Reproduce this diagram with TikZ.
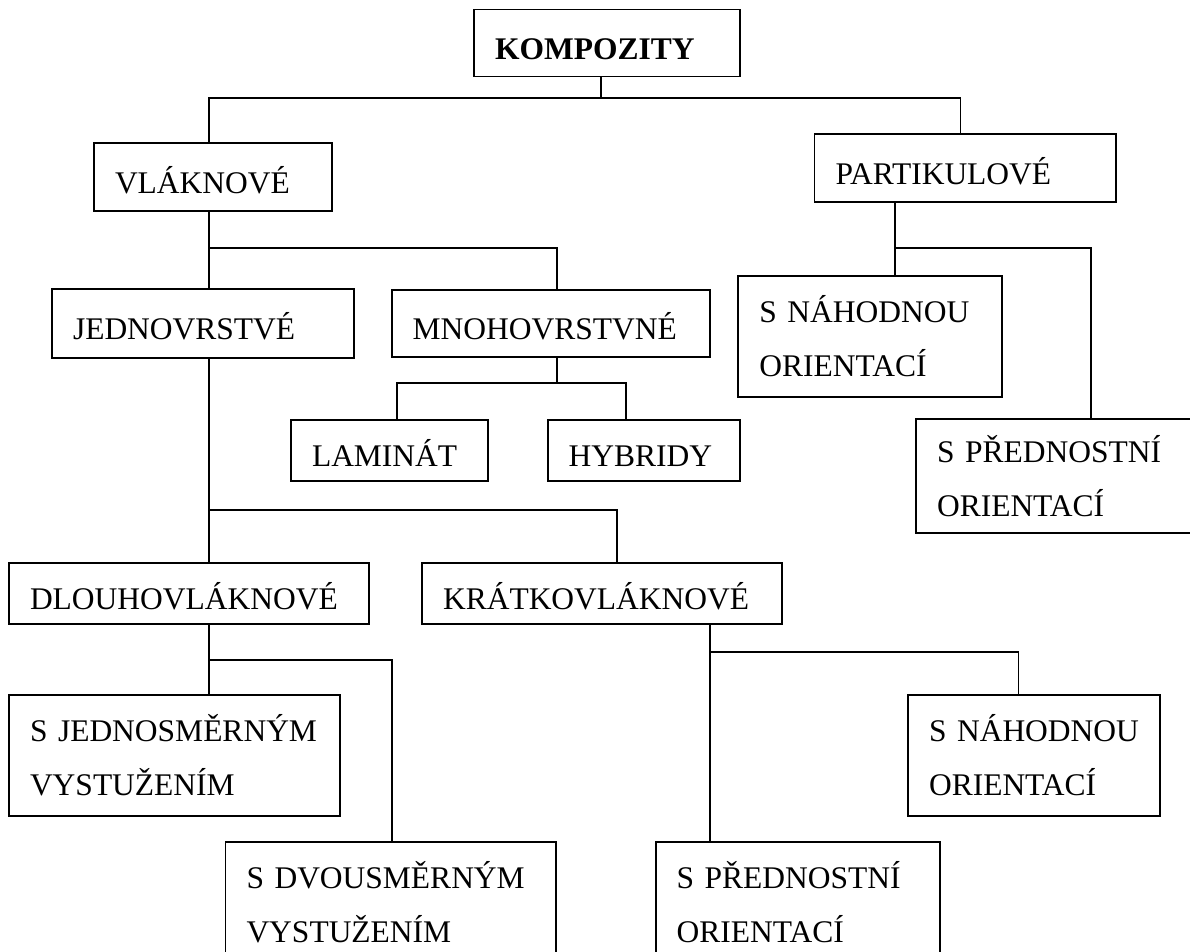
\documentclass[tikz,border=0pt]{standalone}
\usepackage{fontspec}
\setmainfont{Liberation Serif}
\usepackage{tikz}
\usetikzlibrary{calc}
\hyphenpenalty=10000
\uchyph=0

\begin{document}
\begin{tikzpicture}[x=1pt,y=-1pt,
        box/.style={draw,line width=1.8pt,outer sep=0pt,inner xsep=21pt,inner ysep=0pt,
            align=left,font=\fontsize{31.5pt}{54pt}\selectfont},
        one/.style={text height=32pt,text depth=0pt},
        link/.style={line width=1.8pt}]
        \useasboundingbox (0,0) rectangle (1190,951);

        % top
        \node[box,one,font=\fontsize{31.5pt}{54pt}\selectfont\bfseries,text width=224pt,minimum height=67pt] (komp) at (607,43) {KOMPOZITY};
        \node[box,one,text width=196pt,minimum height=68pt] (vlak) at (213,177) {VLÁKNOVÉ};
        \node[box,one,text width=259.5pt,minimum height=68pt] (part) at (965.25,168) {PARTIKULOVÉ};
        % sec line
        \node[box,one,text width=260pt,minimum height=69pt] (jedn) at (203,323.5) {JEDNOVRSTVÉ};
        \node[box,one,text width=276.3pt,minimum height=67pt] (mnoh) at (550.85,323.5) {MNOHOVRSTVNÉ};
        \node[box,text width=221.4pt,minimum height=121pt] (nahA) at (870,336.2) {S~NÁHODNOU\\ORIENTACÍ};
        \node[box,one,text width=155.3pt,minimum height=60.7pt] (lami) at (389.65,450.35) {LAMINÁT};
        \node[box,one,text width=150.3pt,minimum height=61pt] (hybr) at (643.85,450.5) {HYBRIDY};
        \node[box,text width=242pt,minimum height=114pt] (predA) at (1058,476.3) {S~PŘEDNOSTNÍ\\ORIENTACÍ};
        % thrird line
        \node[box,one,text width=318pt,minimum height=61pt] (dlou) at (189,593.5) {DLOUHOVLÁKNOVÉ};
        \node[box,one,text width=317.7pt,minimum height=61pt] (krat) at (601.85,593.5) {KRÁTKOVLÁKNOVÉ};
        % bottom line
        \node[box,text width=289pt,minimum height=121pt] (sjed) at (174.5,755.5) {S~JEDNOSMĚRNÝM\\VYSTUŽENÍM};
        \node[box,text width=210pt,minimum height=121pt] (nahB) at (1034,755.5) {\mbox{S~NÁHODNOU}\\ORIENTACÍ};
        \node[box,text width=288.1pt,minimum height=121pt] (sdvo) at (390.55,902.2) {S~DVOUSMĚRNÝM\\VYSTUŽENÍM};
        \node[box,text width=242.3pt,minimum height=121pt] (predB) at (797.85,902.2) {S~PŘEDNOSTNÍ\\ORIENTACÍ};

        % forks
        \coordinate (fk) at (601,98);
        \coordinate (fv) at (208.6,248.3);
        \coordinate (fm) at (556.6,383.3);
        \coordinate (fj) at (208.6,510);
        \coordinate (fd) at (208.6,660);
        \coordinate (fkr) at (710,651.7);
        \coordinate (fp) at (894.7,248.3);

        \draw[link] (fk |- komp.south) -- (fk);
        \draw[link] (fk) -| (fv |- vlak.north);
        \draw[link] (fk) -| ([xshift=-4.75pt]part.north);

        \draw[link] (fv |- vlak.south) -- (fv);
        \draw[link] (fv) -- (fv |- jedn.north);
        \draw[link] (fv) -| (fm |- mnoh.north);

        \draw[link] (fm |- mnoh.south) -- (fm);
        \draw[link] (fm) -| ([xshift=7.65pt]lami.north);
        \draw[link] (fm) -| ([xshift=-17.85pt]hybr.north);

        \draw[link] (fj |- jedn.south) -- (fj);
        \draw[link] (fj) -- (fj |- dlou.north);
        \draw[link] (fj) -| ([xshift=14.85pt]krat.north);

        \draw[link] (fd |- dlou.south) -- (fd);
        \draw[link] (fd) -- (fd |- sjed.north);
        \draw[link] (fd) -| ([xshift=1.15pt]sdvo.north);

        \draw[link] (fkr |- krat.south) -- (fkr);
        \draw[link] (fkr) -- (fkr |- predB.north);
        \draw[link] (fkr) -| ([xshift=-15.5pt]nahB.north);

        \draw[link] (fp |- part.south) -- (fp);
        \draw[link] (fp) -- (fp |- nahA.north);
        \draw[link] (fp) -| ([xshift=33pt]predA.north);
    \end{tikzpicture}
\end{document}
